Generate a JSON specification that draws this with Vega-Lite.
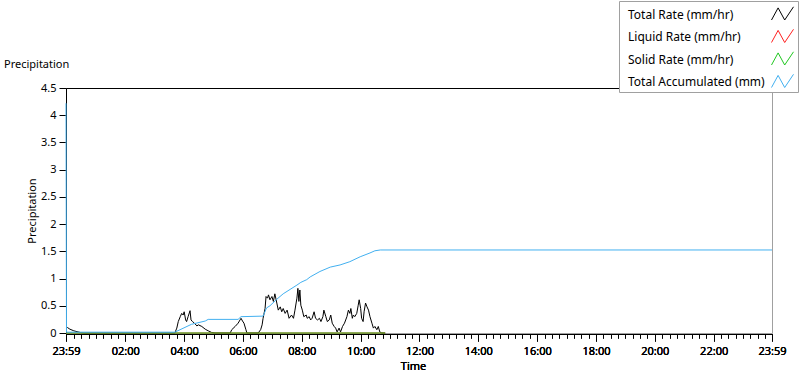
{
  "$schema": "https://vega.github.io/schema/vega-lite/v6.json",
  "width": 706,
  "height": 245,
  "autosize": {"type": "none"},
  "padding": {"left": 66, "top": 88, "right": 28, "bottom": 40},
  "background": "white",
  "config": {
    "font": "Noto Sans",
    "view": {"stroke": "#a0a0a0"},
    "axis": {
      "labelFont": "Noto Sans", "labelFontSize": 11, "labelColor": "#000",
      "titleFont": "Noto Sans", "titleFontSize": 11, "titleFontWeight": "normal", "titleColor": "#000",
      "domainColor": "#000", "tickColor": "#000", "grid": false
    }
  },
  "title": {
    "text": "Precipitation", "anchor": "start", "frame": "group", "dx": -62, "offset": -78,
    "fontSize": 11, "fontWeight": "normal", "font": "Noto Sans", "color": "#000", "baseline": "alphabetic"
  },
  "datasets": {
    "precip": [
      {"series": "Total Rate (mm/hr)", "minutes": 0, "value": 0.09},
      {"series": "Total Rate (mm/hr)", "minutes": 3, "value": 0.10},
      {"series": "Total Rate (mm/hr)", "minutes": 8, "value": 0.07},
      {"series": "Total Rate (mm/hr)", "minutes": 16, "value": 0.04},
      {"series": "Total Rate (mm/hr)", "minutes": 29, "value": 0.01},
      {"series": "Total Rate (mm/hr)", "minutes": 37, "value": 0},
      {"series": "Total Rate (mm/hr)", "minutes": 222, "value": 0},
      {"series": "Total Rate (mm/hr)", "minutes": 226, "value": 0.09},
      {"series": "Total Rate (mm/hr)", "minutes": 229, "value": 0.21},
      {"series": "Total Rate (mm/hr)", "minutes": 233, "value": 0.30},
      {"series": "Total Rate (mm/hr)", "minutes": 236, "value": 0.36},
      {"series": "Total Rate (mm/hr)", "minutes": 239, "value": 0.33},
      {"series": "Total Rate (mm/hr)", "minutes": 241, "value": 0.39},
      {"series": "Total Rate (mm/hr)", "minutes": 244, "value": 0.24},
      {"series": "Total Rate (mm/hr)", "minutes": 246, "value": 0.21},
      {"series": "Total Rate (mm/hr)", "minutes": 249, "value": 0.30},
      {"series": "Total Rate (mm/hr)", "minutes": 253, "value": 0.41},
      {"series": "Total Rate (mm/hr)", "minutes": 255, "value": 0.24},
      {"series": "Total Rate (mm/hr)", "minutes": 258, "value": 0.21},
      {"series": "Total Rate (mm/hr)", "minutes": 262, "value": 0.18},
      {"series": "Total Rate (mm/hr)", "minutes": 267, "value": 0.13},
      {"series": "Total Rate (mm/hr)", "minutes": 270, "value": 0.15},
      {"series": "Total Rate (mm/hr)", "minutes": 277, "value": 0.12},
      {"series": "Total Rate (mm/hr)", "minutes": 284, "value": 0.07},
      {"series": "Total Rate (mm/hr)", "minutes": 290, "value": 0.04},
      {"series": "Total Rate (mm/hr)", "minutes": 297, "value": 0.01},
      {"series": "Total Rate (mm/hr)", "minutes": 304, "value": 0},
      {"series": "Total Rate (mm/hr)", "minutes": 335, "value": 0},
      {"series": "Total Rate (mm/hr)", "minutes": 338, "value": 0.06},
      {"series": "Total Rate (mm/hr)", "minutes": 345, "value": 0.12},
      {"series": "Total Rate (mm/hr)", "minutes": 351, "value": 0.18},
      {"series": "Total Rate (mm/hr)", "minutes": 355, "value": 0.24},
      {"series": "Total Rate (mm/hr)", "minutes": 357, "value": 0.27},
      {"series": "Total Rate (mm/hr)", "minutes": 360, "value": 0.22},
      {"series": "Total Rate (mm/hr)", "minutes": 363, "value": 0.18},
      {"series": "Total Rate (mm/hr)", "minutes": 367, "value": 0.06},
      {"series": "Total Rate (mm/hr)", "minutes": 369, "value": 0},
      {"series": "Total Rate (mm/hr)", "minutes": 392, "value": 0},
      {"series": "Total Rate (mm/hr)", "minutes": 397, "value": 0.06},
      {"series": "Total Rate (mm/hr)", "minutes": 400, "value": 0.15},
      {"series": "Total Rate (mm/hr)", "minutes": 402, "value": 0.27},
      {"series": "Total Rate (mm/hr)", "minutes": 406, "value": 0.45},
      {"series": "Total Rate (mm/hr)", "minutes": 408, "value": 0.67},
      {"series": "Total Rate (mm/hr)", "minutes": 411, "value": 0.64},
      {"series": "Total Rate (mm/hr)", "minutes": 413, "value": 0.70},
      {"series": "Total Rate (mm/hr)", "minutes": 416, "value": 0.61},
      {"series": "Total Rate (mm/hr)", "minutes": 420, "value": 0.67},
      {"series": "Total Rate (mm/hr)", "minutes": 423, "value": 0.58},
      {"series": "Total Rate (mm/hr)", "minutes": 426, "value": 0.72},
      {"series": "Total Rate (mm/hr)", "minutes": 430, "value": 0.55},
      {"series": "Total Rate (mm/hr)", "minutes": 433, "value": 0.42},
      {"series": "Total Rate (mm/hr)", "minutes": 437, "value": 0.48},
      {"series": "Total Rate (mm/hr)", "minutes": 440, "value": 0.39},
      {"series": "Total Rate (mm/hr)", "minutes": 443, "value": 0.45},
      {"series": "Total Rate (mm/hr)", "minutes": 447, "value": 0.36},
      {"series": "Total Rate (mm/hr)", "minutes": 451, "value": 0.42},
      {"series": "Total Rate (mm/hr)", "minutes": 455, "value": 0.27},
      {"series": "Total Rate (mm/hr)", "minutes": 460, "value": 0.33},
      {"series": "Total Rate (mm/hr)", "minutes": 464, "value": 0.27},
      {"series": "Total Rate (mm/hr)", "minutes": 467, "value": 0.42},
      {"series": "Total Rate (mm/hr)", "minutes": 471, "value": 0.64},
      {"series": "Total Rate (mm/hr)", "minutes": 473, "value": 0.82},
      {"series": "Total Rate (mm/hr)", "minutes": 475, "value": 0.58},
      {"series": "Total Rate (mm/hr)", "minutes": 477, "value": 0.79},
      {"series": "Total Rate (mm/hr)", "minutes": 479, "value": 0.51},
      {"series": "Total Rate (mm/hr)", "minutes": 482, "value": 0.42},
      {"series": "Total Rate (mm/hr)", "minutes": 485, "value": 0.30},
      {"series": "Total Rate (mm/hr)", "minutes": 490, "value": 0.33},
      {"series": "Total Rate (mm/hr)", "minutes": 492, "value": 0.27},
      {"series": "Total Rate (mm/hr)", "minutes": 496, "value": 0.30},
      {"series": "Total Rate (mm/hr)", "minutes": 499, "value": 0.24},
      {"series": "Total Rate (mm/hr)", "minutes": 502, "value": 0.27},
      {"series": "Total Rate (mm/hr)", "minutes": 506, "value": 0.39},
      {"series": "Total Rate (mm/hr)", "minutes": 509, "value": 0.27},
      {"series": "Total Rate (mm/hr)", "minutes": 513, "value": 0.24},
      {"series": "Total Rate (mm/hr)", "minutes": 517, "value": 0.27},
      {"series": "Total Rate (mm/hr)", "minutes": 520, "value": 0.21},
      {"series": "Total Rate (mm/hr)", "minutes": 524, "value": 0.30},
      {"series": "Total Rate (mm/hr)", "minutes": 526, "value": 0.42},
      {"series": "Total Rate (mm/hr)", "minutes": 530, "value": 0.30},
      {"series": "Total Rate (mm/hr)", "minutes": 533, "value": 0.21},
      {"series": "Total Rate (mm/hr)", "minutes": 537, "value": 0.24},
      {"series": "Total Rate (mm/hr)", "minutes": 540, "value": 0.33},
      {"series": "Total Rate (mm/hr)", "minutes": 543, "value": 0.18},
      {"series": "Total Rate (mm/hr)", "minutes": 547, "value": 0.12},
      {"series": "Total Rate (mm/hr)", "minutes": 550, "value": 0.09},
      {"series": "Total Rate (mm/hr)", "minutes": 553, "value": 0.02},
      {"series": "Total Rate (mm/hr)", "minutes": 557, "value": 0.09},
      {"series": "Total Rate (mm/hr)", "minutes": 560, "value": 0.02},
      {"series": "Total Rate (mm/hr)", "minutes": 564, "value": 0.12},
      {"series": "Total Rate (mm/hr)", "minutes": 568, "value": 0.18},
      {"series": "Total Rate (mm/hr)", "minutes": 573, "value": 0.30},
      {"series": "Total Rate (mm/hr)", "minutes": 576, "value": 0.42},
      {"series": "Total Rate (mm/hr)", "minutes": 579, "value": 0.36},
      {"series": "Total Rate (mm/hr)", "minutes": 581, "value": 0.45},
      {"series": "Total Rate (mm/hr)", "minutes": 584, "value": 0.27},
      {"series": "Total Rate (mm/hr)", "minutes": 586, "value": 0.33},
      {"series": "Total Rate (mm/hr)", "minutes": 589, "value": 0.30},
      {"series": "Total Rate (mm/hr)", "minutes": 593, "value": 0.36},
      {"series": "Total Rate (mm/hr)", "minutes": 596, "value": 0.51},
      {"series": "Total Rate (mm/hr)", "minutes": 598, "value": 0.61},
      {"series": "Total Rate (mm/hr)", "minutes": 601, "value": 0.45},
      {"series": "Total Rate (mm/hr)", "minutes": 603, "value": 0.27},
      {"series": "Total Rate (mm/hr)", "minutes": 606, "value": 0.21},
      {"series": "Total Rate (mm/hr)", "minutes": 608, "value": 0.39},
      {"series": "Total Rate (mm/hr)", "minutes": 611, "value": 0.55},
      {"series": "Total Rate (mm/hr)", "minutes": 614, "value": 0.48},
      {"series": "Total Rate (mm/hr)", "minutes": 617, "value": 0.42},
      {"series": "Total Rate (mm/hr)", "minutes": 620, "value": 0.30},
      {"series": "Total Rate (mm/hr)", "minutes": 624, "value": 0.18},
      {"series": "Total Rate (mm/hr)", "minutes": 627, "value": 0.09},
      {"series": "Total Rate (mm/hr)", "minutes": 630, "value": 0.12},
      {"series": "Total Rate (mm/hr)", "minutes": 634, "value": 0.06},
      {"series": "Total Rate (mm/hr)", "minutes": 637, "value": 0.12},
      {"series": "Total Rate (mm/hr)", "minutes": 640, "value": 0.02},
      {"series": "Total Rate (mm/hr)", "minutes": 644, "value": 0},
      {"series": "Total Rate (mm/hr)", "minutes": 651, "value": 0},
      {"series": "Liquid Rate (mm/hr)", "minutes": 0, "value": 0},
      {"series": "Liquid Rate (mm/hr)", "minutes": 651, "value": 0},
      {"series": "Solid Rate (mm/hr)", "minutes": 0, "value": 0},
      {"series": "Solid Rate (mm/hr)", "minutes": 651, "value": 0},
      {"series": "Total Accumulated (mm)", "minutes": 0, "value": 4.22},
      {"series": "Total Accumulated (mm)", "minutes": 1, "value": 0.015},
      {"series": "Total Accumulated (mm)", "minutes": 222, "value": 0.015},
      {"series": "Total Accumulated (mm)", "minutes": 256, "value": 0.16},
      {"series": "Total Accumulated (mm)", "minutes": 284, "value": 0.22},
      {"series": "Total Accumulated (mm)", "minutes": 290, "value": 0.25},
      {"series": "Total Accumulated (mm)", "minutes": 351, "value": 0.25},
      {"series": "Total Accumulated (mm)", "minutes": 357, "value": 0.30},
      {"series": "Total Accumulated (mm)", "minutes": 402, "value": 0.31},
      {"series": "Total Accumulated (mm)", "minutes": 409, "value": 0.46},
      {"series": "Total Accumulated (mm)", "minutes": 416, "value": 0.50},
      {"series": "Total Accumulated (mm)", "minutes": 430, "value": 0.62},
      {"series": "Total Accumulated (mm)", "minutes": 443, "value": 0.72},
      {"series": "Total Accumulated (mm)", "minutes": 457, "value": 0.80},
      {"series": "Total Accumulated (mm)", "minutes": 471, "value": 0.88},
      {"series": "Total Accumulated (mm)", "minutes": 479, "value": 0.93},
      {"series": "Total Accumulated (mm)", "minutes": 491, "value": 0.98},
      {"series": "Total Accumulated (mm)", "minutes": 498, "value": 1.03},
      {"series": "Total Accumulated (mm)", "minutes": 518, "value": 1.13},
      {"series": "Total Accumulated (mm)", "minutes": 539, "value": 1.21},
      {"series": "Total Accumulated (mm)", "minutes": 559, "value": 1.25},
      {"series": "Total Accumulated (mm)", "minutes": 579, "value": 1.31},
      {"series": "Total Accumulated (mm)", "minutes": 600, "value": 1.40},
      {"series": "Total Accumulated (mm)", "minutes": 620, "value": 1.47},
      {"series": "Total Accumulated (mm)", "minutes": 630, "value": 1.51},
      {"series": "Total Accumulated (mm)", "minutes": 641, "value": 1.525},
      {"series": "Total Accumulated (mm)", "minutes": 1440, "value": 1.525}
    ]
  },
  "data": {"name": "precip"},
  "encoding": {
    "x": {
      "field": "minutes", "type": "quantitative",
      "scale": {"domain": [0, 1440], "nice": false, "zero": false},
      "axis": {
        "orient": "bottom",
        "offset": 1,
        "values": [0,16,31,46,61,76,91,106,121,136,151,166,181,196,211,226,241,256,271,286,301,316,331,346,361,376,391,406,421,436,451,466,481,496,511,526,541,556,571,586,601,616,631,646,661,676,691,706,721,736,751,766,781,796,811,826,841,856,871,886,901,916,931,946,961,976,991,1006,1021,1036,1051,1066,1081,1096,1111,1126,1141,1156,1171,1186,1201,1216,1231,1246,1261,1276,1291,1306,1321,1336,1351,1366,1381,1396,1411,1426,1440],
        "labelExpr": "datum.value == 0 || datum.value == 1440 ? '23:59' : ((datum.value - 121) % 120 == 0 ? (((datum.value - 1) / 60) < 10 ? '0' : '') + ((datum.value - 1) / 60) + ':00' : '')",
        "tickSize": {"condition": {"test": "datum.value == 0 || datum.value == 1440 || (datum.value - 121) % 120 == 0", "value": 7}, "value": 4},
        "labelPadding": 4,
        "labelOverlap": false,
        "labelFlush": false,
        "title": "Time",
        "titleX": 347,
        "titleY": 35,
        "titleBaseline": "alphabetic"
      }
    },
    "y": {
      "field": "value", "type": "quantitative",
      "scale": {"domain": [0, 4.5], "nice": false},
      "axis": {
        "values": [0, 0.5, 1, 1.5, 2, 2.5, 3, 3.5, 4, 4.5],
        "format": "~g",
        "tickSize": 7,
        "labelPadding": 3,
        "title": "Precipitation",
        "titleX": -31,
        "titleY": 122.5,
        "titleAngle": -90,
        "titleBaseline": "alphabetic"
      }
    },
    "color": {
      "field": "series", "type": "nominal",
      "scale": {
        "domain": ["Total Rate (mm/hr)", "Liquid Rate (mm/hr)", "Solid Rate (mm/hr)", "Total Accumulated (mm)"],
        "range": ["#000000", "#ff2020", "#20c820", "#42b0f0"]
      },
      "legend": {
        "orient": "none", "legendX": 553, "legendY": -87, "title": null, "padding": 2,
        "symbolType": "M-1,0.5L-0.4,-0.6L0.2,0.5L1,-0.7",
        "symbolSize": 484, "symbolStrokeWidth": 1, "symbolFillColor": "transparent",
        "symbolOffset": 150, "labelOffset": -166,
        "labelFont": "Noto Sans", "labelFontSize": 12, "labelColor": "#000", "labelLimit": 300,
        "rowPadding": 3.5, "strokeColor": "#a0a0a0", "fillColor": "white"
      }
    }
  },
  "layer": [
    {"transform": [{"filter": "datum.series == 'Total Rate (mm/hr)'"}], "mark": {"type": "line", "strokeWidth": 1}},
    {"transform": [{"filter": "datum.series == 'Liquid Rate (mm/hr)'"}], "mark": {"type": "line", "strokeWidth": 1}},
    {"transform": [{"filter": "datum.series == 'Solid Rate (mm/hr)'"}], "mark": {"type": "line", "strokeWidth": 1}},
    {
      "transform": [{"filter": "datum.series == 'Total Accumulated (mm)'"}],
      "mark": {"type": "line", "strokeWidth": 1},
      "encoding": {
        "x": {
          "field": "minutes", "type": "quantitative",
          "scale": {"domain": [0, 1440], "nice": false, "zero": false},
          "axis": {"orient": "top", "ticks": false, "labels": false, "title": null, "domain": true, "domainColor": "#000"}
        }
      }
    }
  ]
}
